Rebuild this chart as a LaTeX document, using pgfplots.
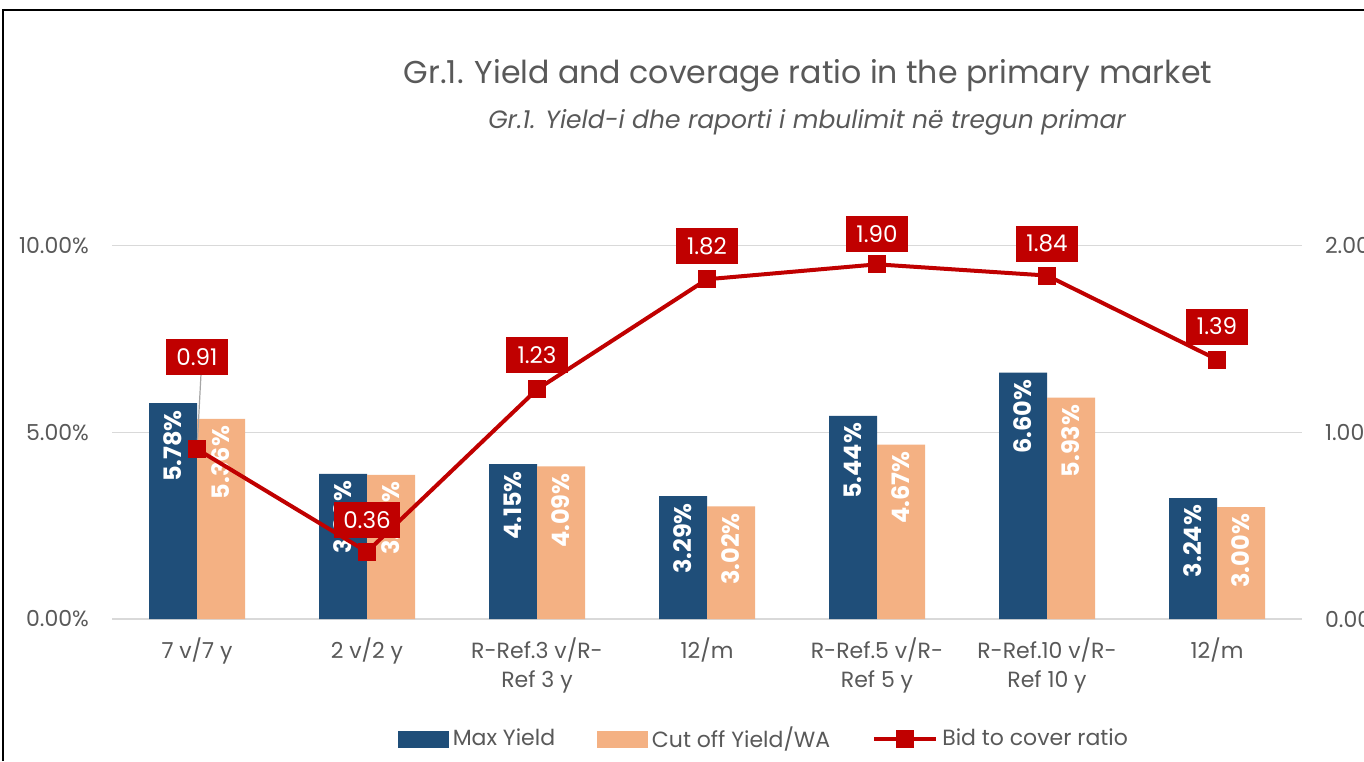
\documentclass[border=0pt]{standalone}
\usepackage{fontspec}
\setmainfont{Poppins}
\usepackage{pgfplots}
\pgfplotsset{compat=1.18}
\usepackage{pgfplotstable}
\definecolor{maxblue}{HTML}{1F4E79}
\definecolor{cutpeach}{HTML}{F4B183}
\definecolor{bidred}{HTML}{C00000}
\definecolor{txtgray}{HTML}{595959}
\definecolor{gridgray}{HTML}{D9D9D9}

\pgfplotstableread{
x max cut bid off
0 5.78 5.36 0.91 46
1 3.89 3.86 0.36 16
2 4.15 4.09 1.23 17
3 3.29 3.02 1.82 16.5
4 5.44 4.67 1.90 15
5 6.60 5.93 1.84 16
6 3.24 3.00 1.39 16.5
}\datatable

\newcommand\tickfont{\fontsize{11}{14.5}\selectfont}

\begin{document}
\begin{tikzpicture}
\clip (0,0) rectangle (682pt,380.5pt);
\fill[white] (0,0) rectangle (682pt,380.5pt);
\draw[black, line width=1pt] (1.5pt,0) -- (1.5pt,375.5pt) -- (682pt,375.5pt);
\node[text=txtgray, font=\fontsize{15.8}{19}\selectfont] at (404pt,342.5pt) {Gr.1. Yield and coverage ratio in the primary market};
\node[text=txtgray, font=\itshape\fontsize{12.5}{15}\selectfont] at (403.5pt,319.5pt) {Gr.1. Yield-i dhe raporti i mbulimit në tregun primar};

\begin{axis}[
  at={(56pt,71pt)}, anchor=south west,
  scale only axis, width=595pt, height=224pt,
  xmin=-0.5, xmax=6.5, ymin=0, ymax=12,
  ybar=0pt, bar width=24pt,
  axis line style={draw=none},
  major tick length=0,
  ymajorgrids, grid style={gridgray, line width=0.75pt},
  ytick={0,5,10},
  yticklabel={\pgfmathprintnumber[fixed,fixed zerofill,precision=2]{\tick}\%},
  yticklabel style={text=txtgray, font=\tickfont, xshift=-8pt},
  xtick={0,...,6},
  xticklabels={{7 v/7 y},{2 v/2 y},{R-Ref.3 v/R-\\Ref 3 y},{12/m},{R-Ref.5 v/R-\\Ref 5 y},{R-Ref.10 v/R-\\Ref 10 y},{12/m}},
  xticklabel style={text=txtgray, font=\tickfont, align=center, yshift=-6pt},
  /pgf/number format/assume math mode=true,
  nodes near coords={\pgfmathprintnumber[fixed,fixed zerofill,precision=2]{\pgfplotspointmeta}\%},
]
\addplot[fill=maxblue, draw=none,
  every node near coord/.append style={rotate=90, anchor=east, text=white, font=\bfseries\fontsize{12}{12}\selectfont}]
  table[x=x, y=max] {\datatable};
\addplot[fill=cutpeach, draw=none,
  every node near coord/.append style={rotate=90, anchor=east, text=white, font=\bfseries\fontsize{12}{12}\selectfont}]
  table[x=x, y=cut] {\datatable};
\end{axis}

\begin{axis}[
  at={(56pt,71pt)}, anchor=south west,
  scale only axis, width=595pt, height=224pt,
  xmin=-0.5, xmax=6.5, ymin=0, ymax=2.4,
  axis x line=none, axis y line*=right, axis line style={draw=none},
  major tick length=0,
  ytick={0,1,2},
  yticklabel={\pgfmathprintnumber[fixed,fixed zerofill,precision=2]{\tick}},
  yticklabel style={text=txtgray, font=\tickfont, xshift=8pt},
  /pgf/number format/assume math mode=true,
  legend style={at={(0.5487,-0.268)}, anchor=center, draw=none, fill=none,
    legend columns=3, font=\tickfont, text=txtgray,
    /tikz/every even column/.append style={column sep=19pt}},
  legend cell align=left,
]
\addlegendimage{legend image code/.code={\fill[maxblue] (0pt,-4pt) rectangle (25pt,4pt);}}
\addlegendentry{Max Yield}
\addlegendimage{legend image code/.code={\fill[cutpeach] (0pt,-4pt) rectangle (25pt,4pt);}}
\addlegendentry{Cut off Yield/WA}
\draw[gray!70, line width=0.6pt] (axis cs:0,0.91) -- ++(2pt,37.5pt);
\addplot[bidred, line width=2pt, mark=square*, mark size=3.5pt,
  legend image code/.code={\draw[bidred, line width=2pt] (0pt,0pt) -- (31pt,0pt);
    \fill[bidred] (12pt,-3.5pt) rectangle (19pt,3.5pt);},
  visualization depends on={\thisrow{off}\as\myoff},
  nodes near coords={\pgfmathprintnumber[fixed,fixed zerofill,precision=2]{\pgfplotspointmeta}},
  every node near coord/.append style={anchor=center, yshift=\myoff, fill=bidred, text=white,
    minimum height=18pt, minimum width=31pt, inner xsep=4.5pt, font=\fontsize{11.5}{11.5}\selectfont}]
  table[x=x, y=bid] {\datatable};
\addlegendentry{Bid to cover ratio}
\end{axis}
\end{tikzpicture}
\end{document}
